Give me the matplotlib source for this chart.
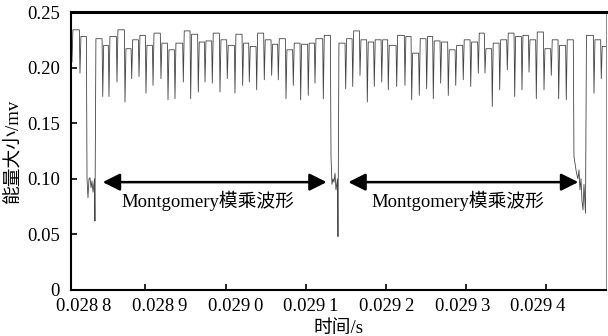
import matplotlib
matplotlib.use("Agg")
import matplotlib.pyplot as plt

plt.rcParams['font.family'] = ['Liberation Serif', 'Noto Sans CJK SC', 'DejaVu Sans']

# ---------------- data (time offsets in microseconds from 0.0288 s) ----------------
T0 = 0.0288
start_t_us, start_v = 8.2, 0.205
end_t_us, end_v = 674.9, 0.219

dip_t_us = [18.2, 46.6, 54.4, 64.4, 74.4, 82.8, 91.9, 100.6, 109.4, 119.3, 128.1,
            136.8, 147.2, 156.4, 165.9, 174.3, 183.4, 193.0, 202.1, 211.7, 221.3,
            229.6, 238.8, 248.3, 257.5, 265.8, 275.4, 284.5, 293.7, 303.2, 311.6,
            322.0, 349.9, 358.7, 367.8, 376.9, 385.6, 394.9, 403.1, 413.6, 423.9,
            432.3, 441.8, 451.0, 459.3, 468.5, 478.0, 487.3, 496.7, 506.0, 515.5,
            523.8, 532.9, 542.2, 551.7, 560.9, 570.0, 578.8, 587.9, 597.5, 606.6,
            615.8, 625.3, 659.9, 669.0]
top_v = [0.234, 0.226, 0.220, 0.228, 0.234, 0.217, 0.225, 0.229, 0.220, 0.231, 0.222,
         0.216, 0.222, 0.233, 0.230, 0.223, 0.224, 0.231, 0.225, 0.220, 0.230,
         0.222, 0.219, 0.231, 0.225, 0.221, 0.226, 0.216, 0.222, 0.221, 0.222,
         0.226, 0.222, 0.226, 0.233, 0.225, 0.223, 0.225, 0.225, 0.220, 0.229,
         0.228, 0.213, 0.226, 0.228, 0.224, 0.223, 0.216, 0.220, 0.225, 0.223,
         0.231, 0.217, 0.222, 0.225, 0.231, 0.228, 0.229, 0.225, 0.232, 0.217,
         0.225, 0.220, 0.229, 0.225]
dip_v = [0.195, 0.174, 0.174, 0.187, 0.169, 0.190, 0.192, 0.177, 0.184, 0.190, 0.171,
         0.172, 0.187, 0.172, 0.178, 0.187, 0.186, 0.178, 0.190, 0.177, 0.184,
         0.187, 0.180, 0.189, 0.193, 0.189, 0.172, 0.184, 0.171, 0.175, 0.186,
         0.172, 0.181, 0.183, 0.193, 0.169, 0.183, 0.187, 0.180, 0.183, 0.184,
         0.171, 0.175, 0.181, 0.172, 0.186, 0.175, 0.184, 0.189, 0.183, 0.195,
         0.195, 0.165, 0.180, 0.198, 0.174, 0.180, 0.196, 0.172, 0.180, 0.193,
         0.172, 0.171, 0.177, 0.190]

# three deep drops (Montgomery multiplication boundaries)
burst1_top = 0.228
burst1_t_us = [27.0, 28.2, 29.5, 30.7, 32.0, 33.2, 34.5, 36.3, 36.9]
burst1_v = [0.100, 0.083, 0.100, 0.101, 0.092, 0.098, 0.088, 0.100, 0.062]
burst2_top = 0.229
burst2_t_us = [331.6, 332.8, 334.1, 335.3, 336.6, 337.8, 339.7, 340.3]
burst2_v = [0.120, 0.095, 0.100, 0.097, 0.105, 0.090, 0.100, 0.048]
burst3_top = 0.225
burst3_t_us = [634.9, 636.2, 638.1, 639.9, 641.2, 642.4, 643.7, 644.9, 646.2, 647.4, 649.3]
burst3_v = [0.120, 0.114, 0.105, 0.100, 0.108, 0.090, 0.100, 0.080, 0.072, 0.095, 0.069]

arrow_spans_us = [(46.6, 326.2), (353.2, 640.3)]
arrow_v = 0.097
label_text = "Montgomery模乘波形"
label_t_us = [178.0, 490.0]
label_v = 0.080

xtick_labels = ["0.028\u20098", "0.028\u20099", "0.029\u20090", "0.029\u20091",
                "0.029\u20092", "0.029\u20093", "0.029\u20094"]
xtick_marks = [0.0289, 0.0290, 0.0291, 0.0292, 0.0293, 0.0294]
yticks = [0, 0.05, 0.10, 0.15, 0.20, 0.25]
ytick_labels = ["0", "0.05", "0.10", "0.15", "0.20", "0.25"]

# ---------------- build polyline ----------------
events = []
for t, tp, dv in zip(dip_t_us, top_v, dip_v):
    events.append((t, t, tp, [t], [dv]))
for tp, bt, bv in [(burst1_top, burst1_t_us, burst1_v),
                   (burst2_top, burst2_t_us, burst2_v),
                   (burst3_top, burst3_t_us, burst3_v)]:
    events.append((bt[0], bt[-1], tp, bt, bv))
events.sort(key=lambda e: e[0])

rise, fall = 1.2, 0.8
xs = [start_t_us]
ys = [start_v]
prev_end = start_t_us
for s, e, tp, pts_t, pts_v in events:
    xs += [prev_end + rise, s - fall]
    ys += [tp, tp]
    xs += list(pts_t)
    ys += list(pts_v)
    prev_end = e
xs += [prev_end + rise, end_t_us]
ys += [end_v, end_v]
xs_s = [T0 + x * 1e-6 for x in xs]

# ---------------- figure ----------------
fig = plt.figure(figsize=(6.08, 3.36), dpi=100)
ax = fig.add_axes([71 / 608, 1 - 290 / 336, (606 - 71) / 608, (290 - 12) / 336])
ax.plot(xs_s, ys, color='#444444', lw=0.6)

ax.set_xlim(T0 + 7.0e-6, T0 + 674.9e-6)
ax.set_ylim(0, 0.25)

# label positions (as drawn in the reference) vs tick-mark positions
lab_pos = [T0 + (23.2 + i * 94.5) * 1e-6 for i in range(len(xtick_labels))]
ax.set_xticks(lab_pos)
ax.set_xticklabels(xtick_labels, fontsize=13.5)
ax.set_xticks(xtick_marks, minor=True)
ax.tick_params(axis='x', which='major', length=0, pad=6)
ax.tick_params(axis='x', which='minor', direction='in', length=4, width=1.2)
ax.set_yticks(yticks)
ax.set_yticklabels(ytick_labels, fontsize=13.5)
ax.tick_params(axis='y', which='major', direction='in', length=4, width=1.2, pad=8)
ax.get_yticklabels()[0].set_verticalalignment('center_baseline')

for side in ['left', 'bottom']:
    ax.spines[side].set_linewidth(1.5)
ax.spines['top'].set_linewidth(2.2)
ax.spines['right'].set_linewidth(0.7)
ax.spines['right'].set_color('#888888')

ax.set_xlabel("时间/s", fontsize=13.5, labelpad=3,
              family=['Liberation Serif', 'Noto Sans CJK SC'])
ax.set_ylabel("能量大小/mv", fontsize=13.5, labelpad=3,
              family=['Liberation Serif', 'Noto Sans CJK SC'])

for (a, b), tl in zip(arrow_spans_us, label_t_us):
    ax.annotate("", xy=(T0 + b * 1e-6, arrow_v), xytext=(T0 + a * 1e-6, arrow_v),
                arrowprops=dict(arrowstyle='<|-|>', color='black', lw=1.8,
                                mutation_scale=26, shrinkA=0, shrinkB=0))
    ax.text(T0 + tl * 1e-6, label_v, label_text, ha='center', va='center',
            fontsize=13.5, family=['Liberation Serif', 'Noto Sans CJK SC'])

fig.savefig("out.png", dpi=100)
